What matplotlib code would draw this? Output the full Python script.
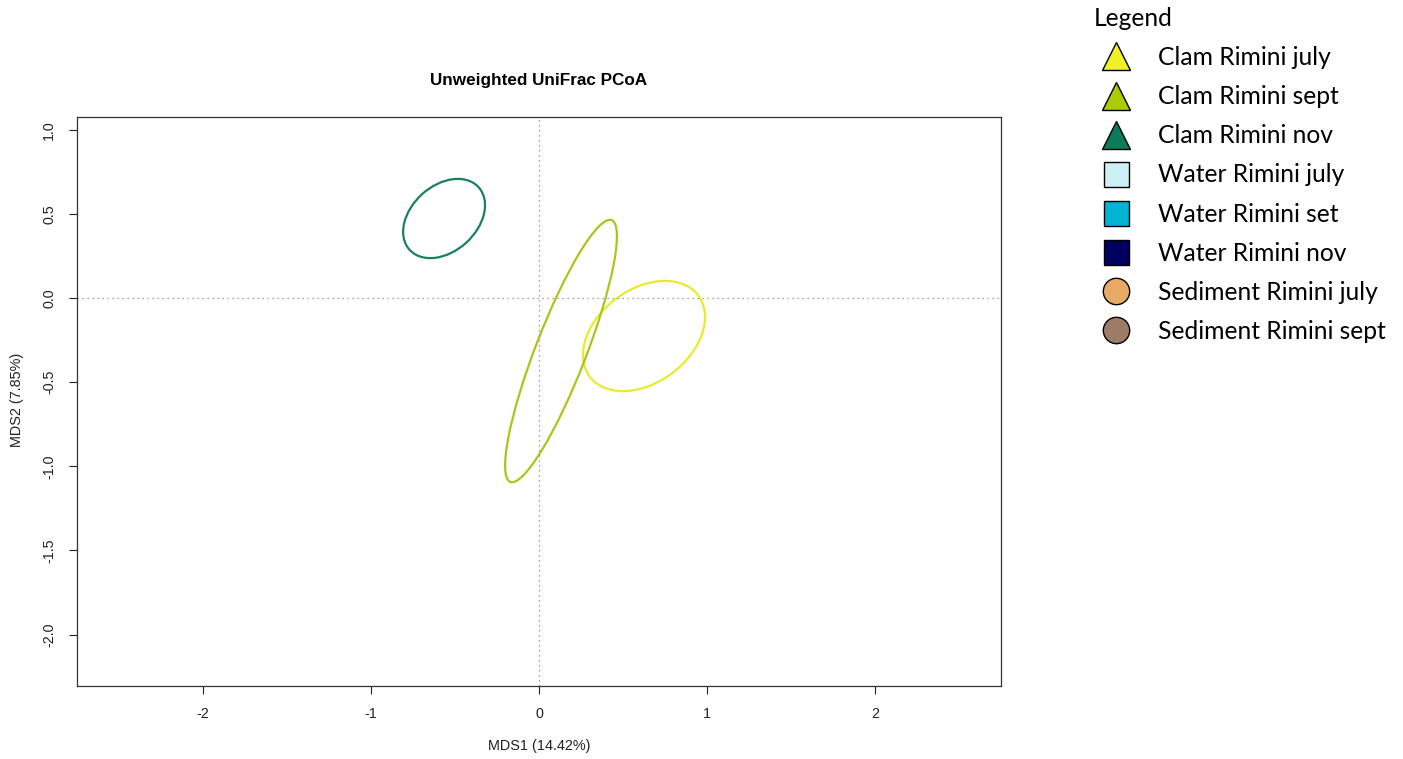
import numpy as np
import matplotlib
matplotlib.use("Agg")
import matplotlib.pyplot as plt
from matplotlib.patches import Ellipse
from matplotlib.lines import Line2D

# ellipse data (center x, center y, full width, full height, angle in degrees)
groups = ["Clam Rimini july", "Clam Rimini sept", "Clam Rimini nov"]
cx = [0.625, 0.131, -0.565]
cy = [-0.226, -0.315, 0.472]
ew = [0.806, 1.668, 0.554]
eh = [0.554, 0.302, 0.390]
ang = [36.6, 68.8, 42.0]
ecol = ["#EAEA28", "#A6C81A", "#1A8060"]

xticks = [-2, -1, 0, 1, 2]
yticks = [-2.0, -1.5, -1.0, -0.5, 0.0, 0.5, 1.0]

# legend
leg_labels = ["Clam Rimini july", "Clam Rimini sept", "Clam Rimini nov",
              "Water Rimini july", "Water Rimini set", "Water Rimini nov",
              "Sediment Rimini july", "Sediment Rimini sept"]
leg_colors = ["#F0F028", "#AACC00", "#0E7A5C", "#CCF0F5", "#00B4D4",
              "#000060", "#E8AA64", "#9C7C66"]
leg_markers = ["^", "^", "^", "s", "s", "s", "o", "o"]

fig = plt.figure(figsize=(14.03, 7.59), dpi=100)
ax = fig.add_axes([77/1403, 1-686/759, 924/1403, 569/759])

for i in range(len(groups)):
    e = Ellipse((cx[i], cy[i]), ew[i], eh[i], angle=ang[i], fill=False,
                edgecolor=ecol[i], linewidth=1.6)
    ax.add_patch(e)

ax.axhline(0, color="#888888", linestyle=(0, (1, 3)), linewidth=0.9)
ax.axvline(0, color="#888888", linestyle=(0, (1, 3)), linewidth=0.9)

ax.set_xlim(-2.75, 2.75)
ax.set_ylim(-2.305, 1.075)
ax.set_xticks(xticks)
ax.set_xticklabels([str(v) for v in xticks])
ax.set_yticks(yticks)
ax.set_yticklabels(["%.1f" % v for v in yticks], rotation=90, va="center")
ax.tick_params(axis="both", direction="out", length=6, width=0.8,
               labelsize=10.3, pad=9, colors="#222222")
for s in ax.spines.values():
    s.set_linewidth(0.9)
    s.set_color("#333333")

for lab in ax.get_xticklabels() + ax.get_yticklabels():
    lab.set_family("Liberation Sans")

fig.text(539/1403, 1-80/759, "Unweighted UniFrac PCoA", ha="center",
         va="center", fontsize=12.3, fontweight="bold", family="Liberation Sans")
fig.text(539/1403, 1-746/759, "MDS1 (14.42%)", ha="center", va="center",
         fontsize=10.4, family="Liberation Sans", color="#222222")
fig.text(17/1403, 1-400/759, "MDS2 (7.85%)", ha="center", va="center",
         rotation=90, fontsize=10.4, family="Liberation Sans", color="#222222")

handles = []
for i in range(len(leg_labels)):
    ms = 20 if leg_markers[i] == "^" else (18 if leg_markers[i] == "s" else 19)
    handles.append(Line2D([], [], linestyle="none", marker=leg_markers[i],
                          markersize=ms, markerfacecolor=leg_colors[i],
                          markeredgecolor="black", markeredgewidth=1.0))

leg = fig.legend(handles, leg_labels, loc="upper left",
                 bbox_to_anchor=(1094/1403, 1-7/759), frameon=False,
                 title="Legend", prop={"family": "Lato", "size": 17.7},
                 title_fontproperties={"family": "Lato", "size": 17.7},
                 borderpad=0, borderaxespad=0, handlelength=1.82,
                 handletextpad=0.78, labelspacing=0.655)
leg._legend_box.align = "left"

fig.savefig("out.png", dpi=100)
